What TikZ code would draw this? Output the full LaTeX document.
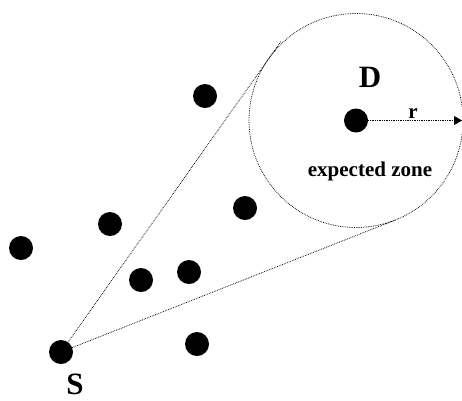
\documentclass[tikz,border=0pt]{standalone}
\usepackage{fontspec}
\setmainfont{Liberation Serif}
\usetikzlibrary{arrows.meta,calc,positioning}

\begin{document}
\begin{tikzpicture}[x=1pt,y=-1pt,line width=0.6pt,>=Triangle,
  dot/.style={circle,fill=black,minimum size=24pt,inner sep=0pt,outer sep=0pt},
  zoneline/.style={densely dotted,line width=0.75pt},
  lbl/.style={font=\bfseries\fontsize{31}{36}\selectfont,inner sep=0pt},
  smalllbl/.style={font=\bfseries\fontsize{21}{25}\selectfont,inner sep=0pt}]
\useasboundingbox (0,0) rectangle (462,400);
% 节点
\node[dot] (S) at (61,352) {};
\node[dot] (D) at (356,120.5) {};
\foreach \name/\x/\y in {n1/205/96, n2/245/208, n3/110/224, n4/21/248,
                         n5/141/280, n6/189/272, n7/197/344}
  \node[dot] (\name) at (\x,\y) {};
% 期望区域（以 D 为圆心）
\node[draw,circle,zoneline,minimum size=214pt,inner sep=0pt,outer sep=0pt] (zone) at (D) {};
% 从 S 到圆的切线
\coordinate (t1) at (tangent cs:node=zone,point={(S)},solution=1);
\coordinate (t2) at (tangent cs:node=zone,point={(S)},solution=2);
\draw[zoneline] (S) -- (t1);
\draw[zoneline] (S) -- ($(S)!1.06!(t2)$);
% 半径 r
\coordinate (rend) at (462,120.5);
\draw[zoneline,-{Triangle[length=8pt,width=9pt]}] (D) -- (rend);
\node[smalllbl] (r) at (413,114) {r};
% 标签
\node[lbl] (Dlbl) at (370,77) {D};
\node[lbl] (Slbl) at (75,384) {S};
\node[smalllbl] (zlbl) at (370,171.5) {expected zone};
\end{tikzpicture}
\end{document}
